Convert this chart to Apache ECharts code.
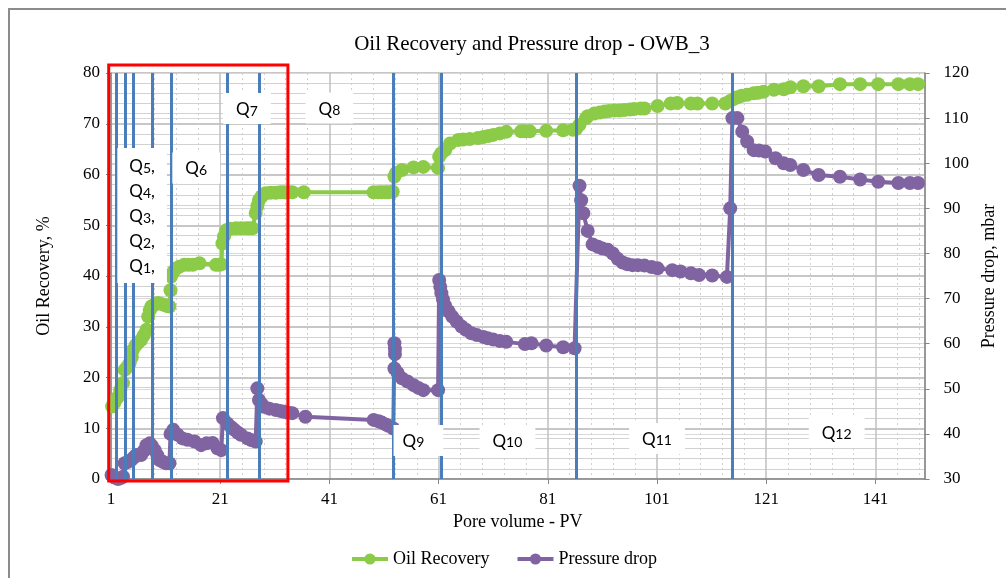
<!DOCTYPE html>
<html><head><meta charset="utf-8">
<script src="https://cdn.jsdelivr.net/npm/echarts@6/dist/echarts.min.js"></script>
<style>html,body{margin:0;padding:0;background:#fff}#c{width:1006px;height:578px}</style>
</head><body><div id="c"></div>
<script>
// ---------- data ----------
const chartTitle = 'Oil Recovery and Pressure drop - OWB_3';
const xTickLabels = [1, 21, 41, 61, 81, 101, 121, 141];
const seriesNames = ['Oil Recovery', 'Pressure drop'];
// [pore volume PV, oil recovery %]
const oilRecovery = [[1.2,14.3],[1.6,15.0],[2.0,15.8],[2.3,16.2],[2.7,17.5],[3.2,18.9],[3.5,21.5],[3.9,22.0],[4.4,22.8],[4.8,24.0],[5.0,25.4],[5.5,26.3],[5.9,26.8],[6.5,27.4],[7.0,28.3],[7.5,29.4],[7.8,32.0],[8.1,33.2],[8.4,34.0],[8.9,34.3],[9.6,34.7],[10.2,34.5],[10.8,34.3],[11.3,34.1],[11.7,34.0],[11.9,37.2],[12.0,39.9],[12.4,40.8],[12.9,41.5],[13.5,41.8],[14.4,42.2],[15.2,42.2],[16.0,42.2],[17.2,42.5],[20.2,42.2],[20.8,42.2],[21.2,42.3],[21.4,46.4],[21.7,47.8],[22.1,49.0],[22.8,49.3],[23.9,49.4],[24.8,49.4],[25.7,49.4],[26.3,49.4],[26.9,49.4],[27.5,52.4],[27.8,53.8],[28.1,55.0],[28.6,55.7],[29.3,56.3],[30.2,56.4],[31.2,56.4],[32.0,56.5],[32.7,56.5],[33.5,56.5],[34.2,56.5],[36.3,56.5],[49.1,56.5],[50.0,56.5],[50.6,56.5],[51.3,56.5],[51.8,56.5],[52.6,56.6],[52.9,59.6],[53.2,60.3],[54.3,60.9],[56.4,61.4],[58.2,61.5],[60.9,61.3],[61.1,63.5],[61.5,64.2],[62.2,64.8],[63.1,66.1],[64.6,66.8],[65.5,66.9],[66.7,67.0],[68.2,67.2],[69.2,67.4],[70.1,67.6],[71.0,67.8],[72.2,68.1],[73.4,68.4],[76.1,68.5],[76.8,68.5],[77.7,68.5],[80.7,68.6],[83.8,68.7],[85.6,68.8],[86.2,69.0],[86.8,69.8],[88.0,71.1],[88.3,71.5],[89.5,72.0],[90.5,72.2],[91.4,72.4],[92.2,72.5],[93.2,72.6],[94.1,72.6],[95.0,72.7],[96.0,72.8],[96.8,72.9],[98.0,73.0],[98.7,73.0],[101.1,73.5],[103.5,74.0],[104.7,74.1],[107.2,74.0],[108.4,74.0],[111.1,74.0],[113.5,74.0],[114.4,74.5],[115.1,74.9],[115.7,75.2],[116.5,75.5],[117.5,75.7],[118.7,76.0],[119.5,76.1],[120.5,76.3],[122.4,76.7],[124.2,76.8],[125.4,77.2],[127.8,77.4],[130.6,77.4],[134.5,77.8],[138.2,77.8],[141.5,77.8],[145.2,77.8],[147.3,77.8],[148.8,77.8]];
// [pore volume PV, pressure drop mbar]
const pressureDrop = [[1.1,30.9],[1.7,30.3],[2.3,30.0],[2.8,30.2],[3.2,30.5],[3.5,33.5],[4.1,33.8],[4.7,34.2],[5.2,34.8],[5.6,35.3],[6.5,35.3],[7.0,36.2],[7.5,37.5],[8.1,37.9],[8.5,37.3],[9.0,36.4],[9.5,35.2],[9.9,34.2],[10.5,33.8],[11.1,33.5],[11.7,33.5],[11.9,40.0],[12.4,40.9],[13.2,39.8],[14.1,39.0],[15.0,38.7],[16.3,38.3],[17.5,37.5],[18.5,37.9],[19.6,38.0],[20.5,36.8],[21.2,36.4],[21.5,43.5],[22.3,42.3],[23.0,41.5],[23.6,40.9],[24.2,40.3],[24.8,39.8],[26.0,39.0],[26.8,38.6],[27.5,38.3],[27.8,50.1],[28.1,47.5],[28.6,46.6],[29.0,46.0],[30.0,45.6],[31.2,45.3],[32.0,45.1],[32.7,44.9],[33.5,44.7],[34.2,44.6],[36.6,43.8],[49.1,43.1],[50.0,42.8],[50.6,42.5],[51.3,42.1],[51.8,41.8],[52.7,41.2],[52.9,60.1],[53.0,58.8],[53.0,57.7],[52.9,54.5],[53.5,53.5],[54.3,52.3],[55.3,51.6],[56.4,50.8],[57.3,50.2],[58.2,49.7],[60.9,49.7],[61.1,74.1],[61.3,72.6],[61.5,71.2],[61.8,69.8],[62.2,68.4],[62.8,67.2],[63.5,66.0],[64.3,64.9],[65.2,63.8],[66.0,63.1],[67.0,62.3],[68.0,61.9],[69.2,61.5],[70.0,61.2],[71.0,60.9],[72.2,60.6],[73.4,60.4],[76.8,59.9],[78.0,60.1],[80.7,59.6],[83.8,59.2],[85.9,59.0],[86.8,95.0],[87.1,91.8],[87.5,88.9],[88.3,85.0],[89.2,82.0],[90.2,81.5],[91.0,81.1],[92.0,80.8],[92.9,80.0],[93.8,78.8],[94.7,78.0],[95.6,77.6],[96.5,77.4],[97.5,77.4],[98.7,77.3],[100.0,77.0],[101.1,76.7],[103.8,76.3],[105.3,76.0],[107.2,75.6],[108.7,75.2],[111.1,75.1],[113.8,74.8],[114.4,90.0],[114.8,110.0],[115.7,110.0],[116.6,107.0],[117.5,104.8],[118.7,102.9],[119.7,102.8],[120.8,102.6],[122.7,101.1],[124.2,100.0],[125.4,99.6],[127.8,98.5],[130.6,97.4],[134.5,97.0],[138.2,96.4],[141.5,95.9],[145.2,95.6],[147.3,95.6],[148.8,95.6]];
// PV where the flow rate changes (vertical lines)
const rateChangePV = [1.9, 3.6, 5.0, 8.5, 12.0, 22.2, 28.1, 52.6, 61.4, 86.2, 114.7];
// rate step names
const stepNames = [['Q','5'],['Q','4'],['Q','3'],['Q','2'],['Q','1']];
const otherSteps = [['Q','6'],['Q','7'],['Q','8'],['Q','9'],['Q','10'],['Q','11'],['Q','12']];

// ---------- build ----------
const X0 = 1; // axis counts from PV 1
const toX = p => p - X0;
const serif = 'Liberation Serif';
const qFont = 'Lato';
const sub = s => '{q|' + s[0] + '}{s|' + s[1] + '}';

// annotation anchors (PV, Oil recovery %) for the step labels, and their box paddings
const stackAnchor = [6.7, 51.9];
const stepAnchors = [[16.6, 61.3], [25.9, 73.0], [41.0, 73.1], [57.3, 7.6], [73.6, 7.6], [101.0, 8.0], [133.9, 9.2]];
const stepPads = [[8, 13, 6, 13], [8, 13, 6, 13], [8, 13, 6, 13], [8, 19, 6, 9], [8, 13, 6, 13], [8, 13, 6, 13], [8, 13, 6, 13]];

const richQ = {
  q: { fontFamily: qFont, fontSize: 17, color: '#000', opacity: 1 },
  s: { fontFamily: qFont, fontSize: 14, color: '#000', opacity: 1, padding: [3, 0, 0, 0] }
};
const labelData = [{
  value: [toX(stackAnchor[0]), stackAnchor[1]],
  label: { formatter: stepNames.map(s => sub(s) + '{q|,}').join('\n'), lineHeight: 25, padding: [6, 12, 4, 12] }
}].concat(otherSteps.map((s, i) => ({
  value: [toX(stepAnchors[i][0]), stepAnchors[i][1]],
  label: { formatter: sub(s), padding: stepPads[i] }
})));

const chart = echarts.init(document.getElementById('c'), null, { renderer: 'canvas' });
const option = {
  backgroundColor: '#fff',
  animation: false,
  title: {
    text: chartTitle, left: 527, top: 29, textAlign: 'center',
    textStyle: { fontFamily: serif, fontSize: 21, fontWeight: 'normal', color: '#000' }
  },
  legend: {
    data: seriesNames, left: 345, top: 545, itemWidth: 36, itemHeight: 14, itemGap: 26,
    lineStyle: { width: 4 },
    textStyle: { fontFamily: serif, fontSize: 18, color: '#000' }
  },
  grid: { left: 111, right: 78, top: 73, bottom: 99, containLabel: false },
  xAxis: {
    type: 'value', min: 0, max: 149, interval: 20,
    name: 'Pore volume - PV', nameLocation: 'middle', nameGap: 34,
    nameTextStyle: { fontFamily: serif, fontSize: 18, color: '#000' },
    axisLine: { show: true, lineStyle: { color: '#868686', width: 1.5 } },
    axisTick: { show: true, length: 5, lineStyle: { color: '#868686' } },
    axisLabel: {
      margin: 12, fontFamily: serif, fontSize: 17, color: '#000', showMaxLabel: false,
      formatter: v => (xTickLabels.indexOf(v + X0) >= 0 ? String(v + X0) : '')
    },
    splitLine: { show: true, lineStyle: { color: '#BFBFBF', width: 1.5 } },
    minorTick: { show: false, splitNumber: 5 },
    minorSplitLine: { show: true, lineStyle: { color: '#CFCFCF', width: 1, type: [2, 3] } }
  },
  yAxis: [{
    type: 'value', min: 0, max: 80, interval: 10, position: 'left',
    name: 'Oil Recovery, %', nameLocation: 'middle', nameGap: 58, nameRotate: 90,
    nameTextStyle: { fontFamily: serif, fontSize: 18, color: '#000' },
    axisLine: { show: true, lineStyle: { color: '#868686', width: 1.5 } },
    axisTick: { show: true, length: 5, lineStyle: { color: '#868686' } },
    axisLabel: { margin: 11, fontFamily: serif, fontSize: 17, color: '#000' },
    splitLine: { show: true, lineStyle: { color: '#B5B5B5', width: 1.5 } },
    minorTick: { show: false, splitNumber: 5 },
    minorSplitLine: { show: true, lineStyle: { color: '#D2D2D2', width: 1 } }
  }, {
    type: 'value', min: 30, max: 120, interval: 10, position: 'right',
    name: 'Pressure drop, mbar', nameLocation: 'middle', nameGap: 54, nameRotate: 90,
    nameTextStyle: { fontFamily: serif, fontSize: 18, color: '#000' },
    axisLine: { show: true, lineStyle: { color: '#868686', width: 1.5 } },
    axisTick: { show: true, length: 5, lineStyle: { color: '#868686' } },
    axisLabel: { margin: 19, fontFamily: serif, fontSize: 17, color: '#000' },
    splitLine: { show: true, lineStyle: { color: '#D9D9D9', width: 1 } }
  }],
  series: [{
    name: seriesNames[0], type: 'line', yAxisIndex: 0, z: 2, clip: false,
    data: oilRecovery.map(d => [toX(d[0]), d[1]]),
    symbol: 'circle', symbolSize: 14, showAllSymbol: true,
    itemStyle: { color: '#8CCB48' }, lineStyle: { color: '#8CCB48', width: 4 }
  }, {
    name: seriesNames[1], type: 'line', yAxisIndex: 1, z: 2, clip: false,
    data: pressureDrop.map(d => [toX(d[0]), d[1]]),
    symbol: 'circle', symbolSize: 14, showAllSymbol: true,
    itemStyle: { color: '#8064A2' }, lineStyle: { color: '#8064A2', width: 4 }
  }, {
    name: 'rate changes', type: 'line', yAxisIndex: 0, z: 5, data: [],
    markLine: {
      silent: true, symbol: ['none', 'none'], animation: false,
      label: { show: false },
      lineStyle: { color: '#4A7EBB', width: 3, type: 'solid' },
      emphasis: { disabled: true },
      data: rateChangePV.map(p => ({ xAxis: toX(p) }))
    }
  }, {
    name: 'steps', type: 'scatter', yAxisIndex: 0, z: 10, silent: true,
    symbolSize: 2, itemStyle: { color: 'rgba(255,255,255,0)' },
    label: {
      show: true, position: 'inside', backgroundColor: '#fff', color: '#000', opacity: 1,
      fontFamily: qFont, fontSize: 17, rich: richQ
    },
    labelLayout: { hideOverlap: false },
    data: labelData
  }]
};
chart.setOption(option);

// red highlight box around the low-rate steps (in data coordinates)
const boxPV = [0.58, 33.4], boxOR = [-0.4, 81.6];
const p1 = chart.convertToPixel({ xAxisIndex: 0, yAxisIndex: 0 }, [toX(boxPV[0]), boxOR[1]]);
const p2 = chart.convertToPixel({ xAxisIndex: 0, yAxisIndex: 0 }, [toX(boxPV[1]), boxOR[0]]);
chart.setOption({
  graphic: [{
    type: 'rect', z: 100, silent: true,
    shape: { x: p1[0], y: p1[1], width: p2[0] - p1[0], height: p2[1] - p1[1] },
    style: { fill: 'none', stroke: '#FF0000', lineWidth: 3 }
  }, {
    type: 'rect', z: 100, silent: true,
    shape: { x: 9, y: 9, width: 1010, height: 600 },
    style: { fill: 'none', stroke: '#8C8C8C', lineWidth: 2 }
  }]
});
</script>
</body></html>
